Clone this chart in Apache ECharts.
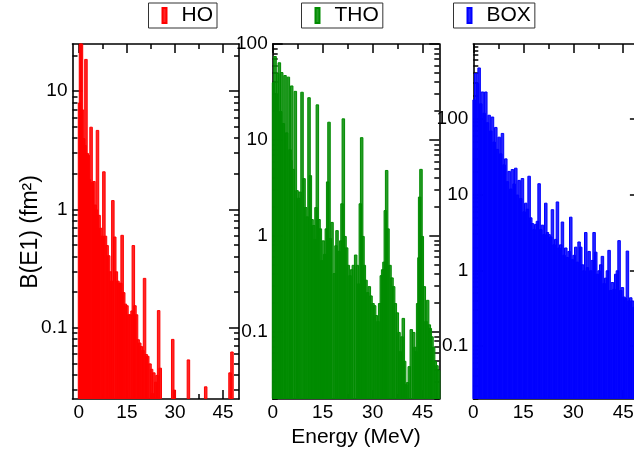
<!DOCTYPE html>
<html><head><meta charset="utf-8">
<script src="https://cdn.jsdelivr.net/npm/echarts@6/dist/echarts.min.js"></script>
<style>html,body{margin:0;padding:0;background:#fff}#c{width:634px;height:451px}</style>
</head><body><div id="c"></div>
<script>
const seriesNames = ['HO', 'THO', 'BOX'];

const hoE = [0.2,0.5,0.8,1.1,1.5,1.9,2.2,2.6,2.9,3.3,3.8,4.2,4.7,5.1,5.5,5.8,6.3,6.8,7.3,7.8,8.3,8.8,9.3,9.8,10.2,10.6,11.2,11.7,12.2,12.7,13.1,13.5,14.0,14.5,15.0,15.5,16.0,16.6,17.0,17.5,18.0,18.5,19.0,19.5,20.0,20.5,21.0,21.5,22.2,22.7,23.0,23.4,24.0,24.4,24.9,25.4,29.3,29.8,34.2,39.6,47.2,47.8];
const hoV = [8,30,30,7.0,4.0,3.5,18.7,3.0,2.9,1.8,5.0,1.7,1.74,1.1,1.0,4.7,0.9,0.7,0.6,2.1,0.6,0.5,0.41,0.3,0.25,1.2,0.59,0.3,0.25,0.24,0.24,0.61,0.2,0.16,0.155,0.13,0.13,0.14,0.5,0.155,0.13,0.08,0.075,0.07,0.065,0.264,0.06,0.058,0.05,0.045,0.028,0.042,0.035,0.04,0.141,0.046,0.0805,0.03,0.054,0.032,0.042,0.063];

const thoE = [0.25,0.7,1.2,1.5,2.0,2.4,2.7,3.2,3.7,4.2,4.7,5.2,5.5,5.7,6.2,6.8,7.3,7.8,8.2,8.8,9.4,9.9,10.4,10.9,11.3,11.8,12.3,12.7,13.0,13.4,13.9,14.3,14.7,15.2,15.6,16.1,16.5,16.9,17.3,17.8,18.5,19.0,19.3,19.9,20.4,20.8,21.2,21.7,22.2,22.7,23.2,23.7,24.2,24.9,25.4,25.8,26.3,26.7,27.1,27.5,28.0,28.5,29.0,29.5,30.1,30.6,31.1,31.6,32.1,32.6,33.0,33.4,33.8,34.2,34.6,35.2,35.8,36.3,36.8,37.4,37.9,38.3,38.8,39.2,39.6,40.0,40.5,41.0,41.6,42.3,42.7,43.0,43.5,43.9,44.1,44.5,44.9,45.5,46.0,46.5,47.0,47.3,47.8,48.3,48.8,49.3,49.8];
const thoV = [40,75,30,50,64.5,20,51,15,47.5,12,45.7,8,6.2,37,5,32.5,3.0,2.5,2.9,31.8,4.0,2.0,1.6,27.9,4.3,1.5,1.3,0.93,2.0,23.5,1.5,1.2,0.56,0.9,0.65,1.2,3.7,15.5,0.95,1.4,0.41,0.8,1.15,0.7,0.9,2.19,16.8,1.0,0.76,0.5,0.39,0.45,0.5,0.64,0.5,0.32,2.19,10.7,1.0,0.5,0.35,0.26,0.3,0.24,0.2,0.19,0.15,0.13,0.2,0.39,0.45,0.54,1.86,4.87,1.2,0.5,0.37,0.3,0.2,0.16,0.1,0.063,0.09,0.14,0.05,0.0285,0.03,0.044,0.107,0.1,0.07,0.063,0.2,0.6,2.57,5.0,1.0,0.3,0.13,0.216,0.12,0.11,0.09,0.07,0.05,0.045,0.04];

const boxE = [0.25,0.75,1.25,1.75,2.25,2.75,3.25,3.75,4.25,4.75,5.25,5.75,6.25,6.75,7.25,7.75,8.25,8.75,9.25,9.75,10.25,10.75,11.25,11.75,12.25,12.75,13.25,13.75,14.25,14.75,15.25,15.75,16.25,16.75,17.25,17.75,18.25,18.75,19.25,19.75,20.25,20.75,21.25,21.75,22.25,22.75,23.25,23.75,24.25,24.75,25.25,25.75,26.25,26.75,27.25,27.75,28.25,28.75,29.25,29.75,30.25,30.75,31.25,31.75,32.25,32.75,33.25,33.75,34.25,34.75,35.25,35.75,36.25,36.75,37.25,37.75,38.25,38.75,39.25,39.75,40.25,40.75,41.25,41.75,42.25,42.75,43.25,43.75,44.25,44.75,45.25,45.75,46.25,46.75,47.25,47.75,48.25,48.75,49.25,49.75];
const boxV = [180,402,296,476,160,229,120,229,90,113,70,107,50,78,40,58,35,65,25,30,15,20.5,12,21.7,14,22.6,10,15.6,9,16.5,6,7.8,6.5,17.7,5,4.2,3.5,4.1,4.5,14.1,3.5,4.0,3.0,7.8,3.2,3.0,2.8,6.4,2.2,2.6,8.1,2.0,2.2,4.4,1.6,2.0,1.5,1.8,5.1,1.4,1.6,2.05,1.3,2.4,2.05,1.2,1.0,3.2,1.1,1.8,1.0,1.37,3.2,1.76,0.9,1.0,1.2,1.55,0.68,0.8,1.0,1.86,0.55,0.7,0.57,0.9,1.0,2.5,0.55,0.6,0.45,0.43,1.82,0.4,0.44,0.4,0.33,0.4,0.3,0.35];

const xTickVals = [0, 15, 30, 45];
const xTickLabels = ['0', '15', '30', '45'];
const xMinorVals = [7.5, 22.5, 37.5];
const yTickVals = [0.1, 1, 10, 100];
const yTickLabels = ['0.1', '1', '10', '100'];
const xName = 'Energy (MeV)';
const yName = 'B(E1) (fm\u00B2)';

const energies = [hoE, thoE, boxE];
const values = [hoV, thoV, boxV];

const FONT = '"Liberation Sans", Arial, Helvetica, sans-serif';
const lineCol = ['#ff0000', '#008b00', '#0000ff'];
const fillCol = ['rgba(255,0,0,0.85)', 'rgba(0,139,0,0.85)', 'rgba(0,0,255,0.85)'];
const xMin = [-2, 0, 0], xMax = [50, 50, 50];
const yMin = [0.025, 0.02, 0.02], yMax = [25, 100, 970];
const gridPos = [
  {left: 72.5, top: 44, width: 166.5, height: 355},
  {left: 272.7, top: 44, width: 166.6, height: 355},
  {left: 473.3, top: 44, width: 166.6, height: 355}
];
const legendPos = [148.5, 301.5, 453.5];

const minorY = [];
for (let e = -2; e <= 2; e++) for (let m = 2; m <= 9; m++) minorY.push(+(m * Math.pow(10, e)).toPrecision(3));

function yFmt(v) {
  for (let i = 0; i < yTickVals.length; i++) {
    if (Math.abs(v - yTickVals[i]) < 1e-6 * yTickVals[i]) return yTickLabels[i];
  }
  return '';
}
function xFmt(v) {
  for (let i = 0; i < xTickVals.length; i++) if (Math.abs(v - xTickVals[i]) < 1e-6) return xTickLabels[i];
  return '';
}

const grid = [], xAxis = [], yAxis = [], series = [], legend = [];
const axLine = {show: true, onZero: false, lineStyle: {color: '#000', width: 1.6}};
const noLine = {show: false, onZero: false};
for (let p = 0; p < 3; p++) {
  grid.push(Object.assign({containLabel: false, outerBoundsMode: 'none'}, gridPos[p]));
  const xb = {type: 'value', gridIndex: p, min: xMin[p], max: xMax[p], splitLine: {show: false}};
  xAxis.push(Object.assign({}, xb, {
    position: 'bottom', axisLine: axLine,
    axisTick: {show: true, inside: true, length: 9, customValues: xTickVals, lineStyle: {color: '#000', width: 1.5}},
    axisLabel: {show: true, customValues: xTickVals, formatter: xFmt, margin: 4, fontSize: 19, color: '#000', fontFamily: FONT},
    name: p === 1 ? xName : '', nameLocation: 'middle', nameGap: 23,
    nameTextStyle: {fontSize: 21, color: '#000', fontFamily: FONT}
  }));
  xAxis.push(Object.assign({}, xb, {
    position: 'bottom', axisLine: noLine,
    axisTick: {show: true, inside: true, length: 5, customValues: xMinorVals, lineStyle: {color: '#000', width: 1.5}},
    axisLabel: {show: false}
  }));
  xAxis.push(Object.assign({}, xb, {
    position: 'top', axisLine: axLine,
    axisTick: {show: true, inside: true, length: 9, customValues: xTickVals, lineStyle: {color: '#000', width: 1.5}},
    axisLabel: {show: false}
  }));
  xAxis.push(Object.assign({}, xb, {
    position: 'top', axisLine: noLine,
    axisTick: {show: true, inside: true, length: 5, customValues: xMinorVals, lineStyle: {color: '#000', width: 1.5}},
    axisLabel: {show: false}
  }));
  const yb = {type: 'log', logBase: 10, gridIndex: p, min: yMin[p], max: yMax[p], startValue: yMin[p], splitLine: {show: false}, minorTick: {show: false}};
  yAxis.push(Object.assign({}, yb, {
    position: 'left', axisLine: axLine,
    axisTick: {show: true, inside: true, length: 10, customValues: yTickVals, lineStyle: {color: '#000', width: 1.5}},
    axisLabel: {show: true, customValues: yTickVals, formatter: yFmt, margin: 5, fontSize: 19, color: '#000', fontFamily: FONT}
  }));
  yAxis.push(Object.assign({}, yb, {
    position: 'left', axisLine: noLine,
    axisTick: {show: true, inside: true, length: 5, customValues: minorY, lineStyle: {color: '#000', width: 1.5}},
    axisLabel: {show: false}
  }));
  yAxis.push(Object.assign({}, yb, {
    position: 'right', axisLine: axLine,
    axisTick: {show: true, inside: true, length: 10, customValues: yTickVals, lineStyle: {color: '#000', width: 1.5}},
    axisLabel: {show: false}
  }));
  yAxis.push(Object.assign({}, yb, {
    position: 'right', axisLine: noLine,
    axisTick: {show: true, inside: true, length: 5, customValues: minorY, lineStyle: {color: '#000', width: 1.5}},
    axisLabel: {show: false}
  }));
  series.push({
    type: 'bar', name: seriesNames[p], xAxisIndex: 4 * p, yAxisIndex: 4 * p,
    data: energies[p].map((e, i) => [e, values[p][i]]),
    barWidth: 3.5, clip: true,
    itemStyle: {color: fillCol[p], borderColor: lineCol[p], borderWidth: 1},
    emphasis: {disabled: true}
  });
  legend.push({
    data: [seriesNames[p]], left: legendPos[p], top: 3, orient: 'horizontal',
    icon: 'rect', itemWidth: 4, itemHeight: 15,
    borderColor: '#333', borderWidth: 1, padding: [2, 4, 2, 13],
    textStyle: {fontSize: 21, color: '#000', fontFamily: FONT, padding: [0, 0, 0, 10]},
    selectedMode: false
  });
}

const chart = echarts.init(document.getElementById('c'), null, {renderer: 'canvas'});
chart.setOption({
  animation: false,
  backgroundColor: '#fff',
  textStyle: {fontFamily: FONT},
  grid, xAxis, yAxis, series, legend,
  graphic: [{
    type: 'text', x: 31, y: 232, rotation: Math.PI / 2, silent: true,
    style: {text: yName, fontSize: 23, fontFamily: FONT, fill: '#000', align: 'center', verticalAlign: 'middle'}
  }]
});
</script></body></html>
